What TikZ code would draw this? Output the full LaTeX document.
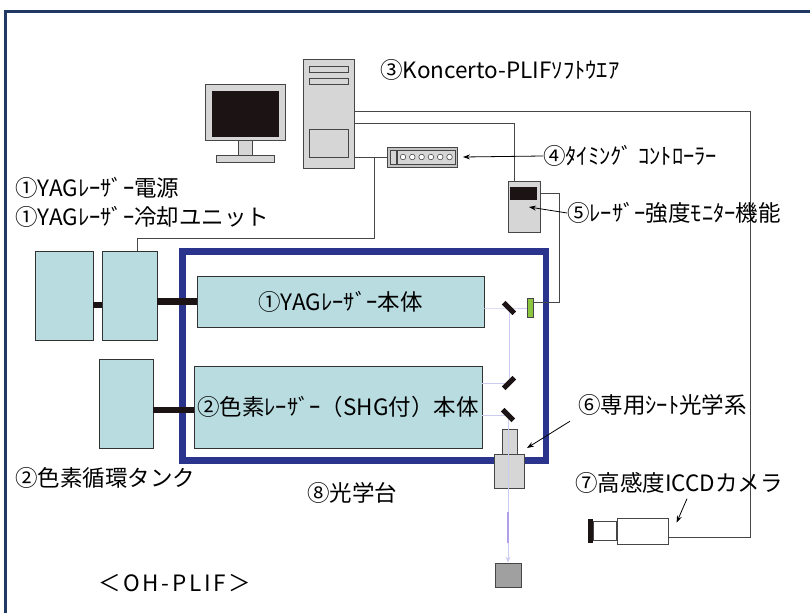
\documentclass[tikz,border=0pt]{standalone}
\usepackage{fontspec}
\newfontfamily\jpfont{Noto Sans CJK JP}
\usepackage{xcolor}
\usetikzlibrary{positioning,calc,arrows.meta}

\definecolor{framenavy}{RGB}{31,56,100}
\definecolor{tableblue}{RGB}{42,52,140}
\definecolor{unitcyan}{RGB}{184,220,224}
\definecolor{unitedge}{RGB}{50,50,50}
\definecolor{devgray}{RGB}{214,214,214}
\definecolor{ctrlgray}{RGB}{196,196,196}
\definecolor{devedge}{RGB}{70,70,70}
\definecolor{dumpgray}{RGB}{160,160,160}
\definecolor{pdgreen}{RGB}{140,198,63}
\definecolor{beamlav}{RGB}{204,204,240}
\definecolor{beamviolet}{RGB}{176,160,232}
\definecolor{inkblack}{RGB}{28,20,20}

\begin{document}
\begin{tikzpicture}[x=1pt,y=1pt,yscale=-1,
  unit/.style={draw=unitedge, fill=unitcyan, line width=0.9, inner sep=0, outer sep=0},
  dev/.style={draw=devedge, fill=devgray, line width=0.8, inner sep=0, outer sep=0},
  blackpart/.style={fill=inkblack, inner sep=0, outer sep=0},
  mirror/.style={fill=inkblack, minimum width=15, minimum height=5, inner sep=0},
  cable/.style={draw=devedge, line width=0.9},
  bar/.style={draw=inkblack, line width=6.5},
  beam/.style={draw=beamlav, line width=1},
  lbl/.style={font=\jpfont\fontsize{22.5}{27}\selectfont, inner sep=0, anchor=west},
  pointer/.style={draw=black, line width=0.8, -{Stealth[length=7,width=5]}}]
  \useasboundingbox (0,0) rectangle (810,613);

  %Frame
  \draw[framenavy, line width=3] (5,613) -- (5,11) -- (810,11);

  %Shape: PC monitor
  \node[dev, minimum width=80, minimum height=56] (monitor) at (245,112) {};
  \node[blackpart, minimum width=67, minimum height=46] (screen) at (245.5,114) {};
  \node[dev, minimum width=14, minimum height=15, below=0 of monitor] (neck) {};
  \node[dev, minimum width=58, minimum height=7, below=0 of neck] (stand) {};
  %Shape: PC tower
  \node[dev, minimum width=51, minimum height=109] (tower) at (328.5,113.5) {};
  \node[dev, minimum width=39, minimum height=6] (bayA) at (328.5,69) {};
  \node[dev, minimum width=39, minimum height=6] (bayB) at (328.5,81) {};
  \node[dev, minimum width=39, minimum height=28] (panel) at (328.5,143) {};

  %Shape: timing controller
  \node[dev, fill=ctrlgray, minimum width=70, minimum height=20] (ctrl) at (422,157) {};
  \draw[devedge, fill=devgray, line width=0.6] (390,150) rectangle (396,164);
  \draw[devedge, fill=devgray, line width=0.6] (397,150) rectangle (455,164);
  \foreach \i in {0,...,5}
    \draw[devedge, fill=white, line width=0.6] (403+\i*9.3,157) circle (2.8);

  %Shape: energy monitor
  \node[dev, minimum width=32, minimum height=51] (pmon) at (524,206.5) {};
  \node[blackpart, minimum width=27, minimum height=13] (pmondisp) at (523.5,193.5) {};

  %Shape: optical table
  \draw[tableblue, line width=6.5] (182.5,251.5) rectangle (546,460.5);

  %Shape: laser units
  \node[unit, minimum width=58, minimum height=89] (psu) at (64,295.5) {};
  \node[unit, minimum width=55, minimum height=89] (cooler) at (129.5,295.5) {};
  \node[unit, minimum width=54, minimum height=89] (tank) at (126,403.5) {};
  \node[unit, minimum width=287, minimum height=51, font=\jpfont\fontsize{22.5}{27}\selectfont] (yag) at (340.5,301.5) {①YAGﾚｰｻﾞｰ本体};
  \node[unit, minimum width=288, minimum height=82, font=\jpfont\fontsize{22.5}{27}\selectfont] (dye) at (338,407) {②色素ﾚｰｻﾞｰ（SHG付）本体};

  %Straight Lines: bars
  \draw[bar] ($(psu.east)+(0,9.5)$) -- ($(cooler.west)+(0,9.5)$);
  \draw[bar] (cooler.east |- yag.west) -- (yag.west);
  \coordinate (dyeport) at ($(dye.west)+(0,3)$);
  \draw[bar] (tank.east |- dyeport) -- (dyeport);

  %Shape: photodiode, sheet optics, dump
  \node[draw=devedge, fill=pdgreen, line width=0.6, minimum width=6, minimum height=19, inner sep=0] (pd) at (530,307.5) {};
  \node[dev, minimum width=15, minimum height=25] (sheettop) at (509.5,441.5) {};
  \node[dev, minimum width=30, minimum height=34] (sheet) at (509,471) {};
  \node[draw=devedge, fill=dumpgray, line width=0.8, minimum width=26, minimum height=24, inner sep=0] (dump) at (508,575) {};

  %Mirrors (drawn after the beams)
  \coordinate (m1) at (509,308);
  \coordinate (m2) at (509,383);
  \coordinate (m3) at (508,415);

  %Straight Lines: beams
  \draw[beam] (yag.east |- m1) -- (m1) -- (m1 -| pd.west);
  \draw[beam] (m1) -- (m2);
  \draw[beam] (dye.east |- m2) -- (m2);
  \draw[beam] (dye.east |- m3) -- (m3);
  \draw[beam, -{Stealth[length=6,width=5]}] (m3) -- (dump.north);
  \coordinate (fanA) at (508,512);
  \coordinate (fanB) at (508,543);
  \draw[beamviolet, line width=2] (fanA) -- (fanB);

  \node[mirror, rotate=-45] (mirA) at (m1) {};
  \node[mirror, rotate=45] (mirB) at (m2) {};
  \node[mirror, rotate=-45] (mirC) at (m3) {};

  %Shape: ICCD camera
  \node[blackpart, minimum width=5, minimum height=24] (camcap) at (590.5,531) {};
  \node[draw=devedge, fill=white, line width=0.8, minimum width=23, minimum height=19, inner sep=0, right=0 of camcap] (camlens) {};
  \node[draw=devedge, fill=white, line width=0.8, minimum width=51, minimum height=26, inner sep=0, right=0 of camlens] (cambody) {};

  %Straight Lines: cables
  \coordinate (rbus) at (750,111);
  \coordinate (camport) at ($(cambody.east)+(0,6)$);
  \draw[cable] ($(tower.east)+(0,-2.5)$) -- (rbus) |- (camport);
  \draw[cable] ($(tower.east)+(0,9.5)$) -| ($(pmon.north)+(-10,0)$);
  \draw[cable] (tower.east |- ctrl.west) -- (ctrl.west);
  \coordinate (trig) at (374,157);
  \coordinate (trunk) at (374,238);
  \draw[cable] (trig) -- (trunk) -| ($(cooler.north)+(7.5,0)$);
  \coordinate (pdturn) at (559,193);
  \coordinate (pdport) at ($(pd.east)+(0,-5.5)$);
  \draw[cable] ($(pmon.east)+(0,-13.5)$) -- (pdturn) |- (pdport);

  % Text Node
  \node[lbl] (lblsoft) at (380,70) {③Koncerto-PLIFｿﾌﾄｳｴｱ};
  % Text Node
  \node[lbl] (lblpsu) at (15,188) {①YAGﾚｰｻﾞｰ電源};
  % Text Node
  \node[lbl] (lblcool) at (15,217) {①YAGﾚｰｻﾞｰ冷却ユニット};
  % Text Node
  \node[lbl] (lbltime) at (543,156) {④ﾀｲﾐﾝｸﾞ ｺﾝﾄﾛｰﾗｰ};
  % Text Node
  \node[lbl] (lblmon) at (567,213) {⑤ﾚｰｻﾞｰ強度ﾓﾆﾀｰ機能};
  % Text Node
  \node[lbl] (lblsheet) at (578,405) {⑥専用ｼｰﾄ光学系};
  % Text Node
  \node[lbl] (lbltank) at (15,478) {②色素循環タンク};
  % Text Node
  \node[lbl, anchor=center] (lbltable) at (352,493) {⑧光学台};
  % Text Node
  \node[lbl] (lblcam) at (575,483) {⑦高感度ICCDカメラ};
  % Text Node
  \node[lbl, font=\jpfont\fontsize{22.5}{27}\selectfont\addfontfeature{LetterSpace=12}] (lbltitle) at (98,583) {＜OH-PLIF＞};

  %Straight Lines: pointers
  \draw[pointer] (lbltime.west) -- ($(ctrl.east)+(6,0)$);
  \draw[pointer] (lblmon.west) -- ($(pmon.center)+(5,0.5)$);
  \draw[pointer] ($(lblsheet.south west)+(-8,5.5)$) -- ($(sheet.north east)+(3,-6)$);
  \draw[pointer] ($(lblcam.south)+(8,5)$) -- ($(cambody.north east)+(8,5)$);
\end{tikzpicture}
\end{document}
